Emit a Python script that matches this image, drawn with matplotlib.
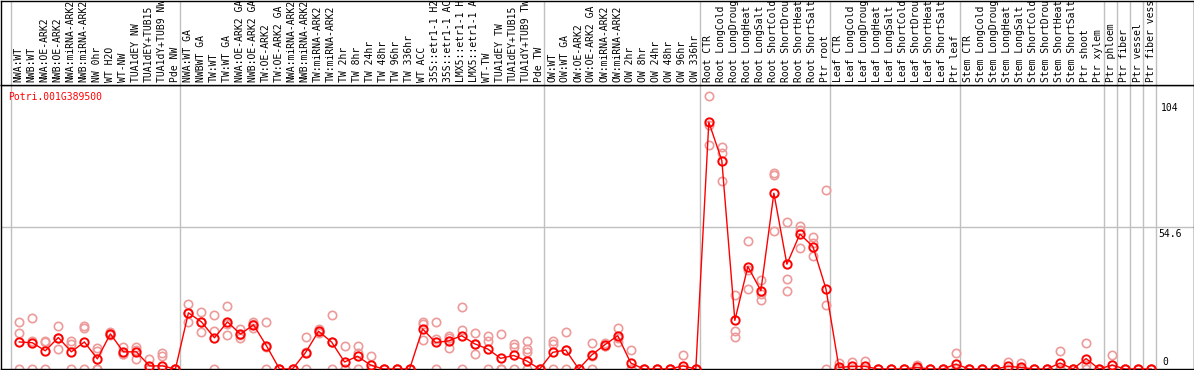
import matplotlib
matplotlib.use("Agg")
import matplotlib.pyplot as plt
import matplotlib.transforms as mtransforms

# sample names, left to right
samples = [
    "NWA:WT", "NWB:WT", "NWA:OE-ARK2", "NWB:OE-ARK2", "NWA:miRNA-ARK2", "NWB:miRNA-ARK2",
    "NW 0hr", "WT H2O", "WT-NW", "TUA1dEY NW", "TUA1dEY+TUB15", "TUA1dY+TUB9 NW", "Pde NW",
    "NWA:WT GA", "NWBWT GA", "TW:WT", "TW:WT GA", "NWA:OE-ARK2 GA", "NWB:OE-ARK2 GA",
    "TW:OE-ARK2", "TW:OE-ARK2 GA", "NWA:miRNA-ARK2", "NWB:miRNA-ARK2", "TW:miRNA-ARK2",
    "TW:miRNA-ARK2", "TW 2hr", "TW 8hr", "TW 24hr", "TW 48hr", "TW 96hr", "TW 336hr",
    "WT ACC", "35S::etr1-1 H2O", "35S::etr1-1 ACC", "LMX5::etr1-1 H2O", "LMX5::etr1-1 ACC",
    "WT-TW", "TUA1dEY TW", "TUA1dEY+TUB15", "TUA1dY+TUB9 TW", "Pde TW",
    "OW:WT", "OW:WT GA", "OW:OE-ARK2", "OW:OE-ARK2 GA", "OW:miRNA-ARK2", "OW:miRNA-ARK2",
    "OW 2hr", "OW 8hr", "OW 24hr", "OW 48hr", "OW 96hr", "OW 336hr",
    "Root CTR", "Root LongCold", "Root LongDrought", "Root LongHeat", "Root LongSalt",
    "Root ShortCold", "Root ShortDrought", "Root ShortHeat", "Root ShortSalt", "Ptr root",
    "Leaf CTR", "Leaf LongCold", "Leaf LongDrought", "Leaf LongHeat", "Leaf LongSalt",
    "Leaf ShortCold", "Leaf ShortDrought", "Leaf ShortHeat", "Leaf ShortSalt", "Ptr leaf",
    "Stem CTR", "Stem LongCold", "Stem LongDrought", "Stem LongHeat", "Stem LongSalt",
    "Stem ShortCold", "Stem ShortDrought", "Stem ShortHeat", "Stem ShortSalt", "Ptr shoot",
    "Ptr xylem", "Ptr phloem", "Ptr fiber", "Ptr vessel", "Ptr fiber vessel",
]

# index of first sample in each block (gray dividers)
group_starts = [0, 13, 41, 53, 63, 73, 84, 85, 86, 87, 88]

# mean expression
means = [
    10.4, 10.1, 7.0, 12.1, 6.6, 10.4, 3.9, 13.5, 6.6, 6.6, 1.2, 1.2, 0,
    21.6, 18.1, 12.0, 18.1, 13.4, 17.0, 8.9, 0, 0, 6.3, 14.5, 10.4, 2.7, 4.9, 1.5,
    0, 0, 0, 15.4, 10.2, 10.8, 12.8, 9.7, 7.7, 4.1, 5.2, 3.1, 0,
    6.4, 7.3, 0, 5.4, 9.3, 12.8, 2.3, 0, 0, 0, 1.2, 0,
    94.9, 80.1, 18.7, 39.4, 30.1, 67.6, 40.3, 51.9, 47.1, 30.9,
    0.6, 1.0, 1.0, 0, 0, 0, 0.6, 0, 0, 1.9,
    0, 0, 0, 1.0, 0.6, 0, 0, 2.3, 0, 4.0, 0,
    1.5, 0, 0, 0,
]

# individual replicates
reps = [
    (18.1, 13.8, 0), (19.7, 10.8, 0), (10.3, 10.7, 0), (16.6, 12.1, 7.6), (10.7, 9.7, 0),
    (16.6, 15.6, 0), (8.0, 7.0, 0, 0), (14.2, 13.5, 12.9), (8.3, 5.8, 5.8), (8.6, 7.3, 3.9),
    (4.0, 0, 0), (6.1, 5.0, 0), (0, 0, 0),
    (25.0, 18.1, 21.6), (22.1, 14.2, 18.1), (20.9, 14.8, 0), (24.1, 12.9, 17.3),
    (15.4, 11.9, 13.0), (18.1, 17.3, 15.6), (18.2, 8.5, 0), (0, 0, 0), (0, 0, 0),
    (12.3, 6.5, 0), (15.4, 13.9, 14.2), (20.9, 10.4, 0), (8.9, 0, 0), (8.9, 6.0, 0),
    (5.0, 0, 0), (0, 0, 0), (0, 0, 0), (0, 0, 0), (18.1, 17.3, 11.2), (18.2, 11.5, 0),
    (12.7, 11.9, 8.0), (24.0, 15.0, 0), (13.9, 9.5, 5.8), (12.7, 10.9, 0), (13.3, 0, 0),
    (9.6, 8.6, 0), (10.9, 7.7, 6.7, 0), (0, 0, 0),
    (10.6, 9.6, 0), (14.2, 7.3, 0), (0, 0, 0), (10.0, 5.0, 0), (10.0, 9.0, 9.0),
    (15.9, 12.0, 10.5), (7.3, 0, 0), (0, 0, 0), (0, 0, 0), (0, 0, 0), (5.4, 0, 0), (0, 0, 0),
    (104.8, 93.8, 86.3), (85.2, 82.9, 72.3), (28.3, 14.8, 12.4), (49.4, 38.0, 30.6),
    (34.1, 29.0, 26.7), (75.4, 74.5, 52.9), (56.4, 34.7, 29.8), (55.1, 53.5, 46.7),
    (50.7, 48.5, 43.4), (68.9, 24.8, 0),
    (2.2, 0, 0), (2.8, 0, 0), (3.2, 0, 0), (0, 0, 0), (0, 0, 0), (0, 0, 0), (1.4, 0.6, 0),
    (0, 0, 0), (0, 0, 0), (6.2, 0, 0),
    (0, 0, 0), (0, 0, 0), (0, 0, 0), (2.8, 0, 0), (2.2, 0, 0), (0, 0, 0), (0, 0, 0),
    (7.0, 0, 0), (0, 0, 0), (10.1, 1.5, 0), (0, 0, 0),
    (5.4, 0, 0), (0, 0, 0), (0, 0, 0), (0, 0, 0),
]

gene = "Potri.001G389500"
ymax_label = "104"
ymid_label = "54.6"
ymax = 109.2

W, H = 1194, 370
mono = "DejaVu Sans Mono"
fig = plt.figure(figsize=(W / 100, H / 100), dpi=100)

# pixel -> sample index mapping (19.3px for sample 0, 13.01px pitch)
x0, step = 19.3, 13.01
xlim = ((0.5 - x0) / step, (W - 0.5 - x0) / step)

ax = fig.add_axes([0.5 / W, 1 / H, (W - 1) / W, 284 / H])
top = fig.add_axes([0.5 / W, 285 / H, (W - 1) / W, 84.5 / H], sharex=ax)

for a in (ax, top):
    a.set_xlim(*xlim)
    a.set_xticks([])
    a.set_yticks([])
    for s in a.spines.values():
        s.set_color("black")
        s.set_linewidth(1)
    for k in group_starts:
        a.axvline(k - 0.66, color="#c0c0c0", lw=1, zorder=0)

ax.set_ylim(0, ymax)
ax.axhline(54.6, color="#c0c0c0", lw=1, zorder=0)

# replicates
for i, r in enumerate(reps):
    ax.plot([i] * len(r), r, "o", ms=6, mfc="none", mec="#ee9a9a", mew=1.2, zorder=2)

xs = list(range(len(means)))
ax.plot(xs, means, "-", color="red", lw=1, zorder=3)
ax.plot(xs, means, "o", ms=6, mfc="none", mec="red", mew=1.4, zorder=4)

# sample labels in the top band
trans = mtransforms.blended_transform_factory(top.transData, top.transAxes)
for i, name in enumerate(samples):
    top.text(i - 0.05, 0.03, name, rotation=90, ha="center", va="bottom",
             transform=trans, fontsize=7, family=mono, clip_on=True)

ax.text(8 / W, 0.975, gene, transform=ax.transAxes, color="red",
        fontsize=7, family=mono, ha="left", va="top")
ax.text(88.45, 100.4, ymax_label, fontsize=7, family=mono, ha="center", va="center")
ax.text(88.45, 51.9, ymid_label, fontsize=7, family=mono, ha="center", va="center")
ax.text(88.1, 2.7, "0", fontsize=7, family=mono, ha="center", va="center")

fig.savefig("out.png", dpi=100)
